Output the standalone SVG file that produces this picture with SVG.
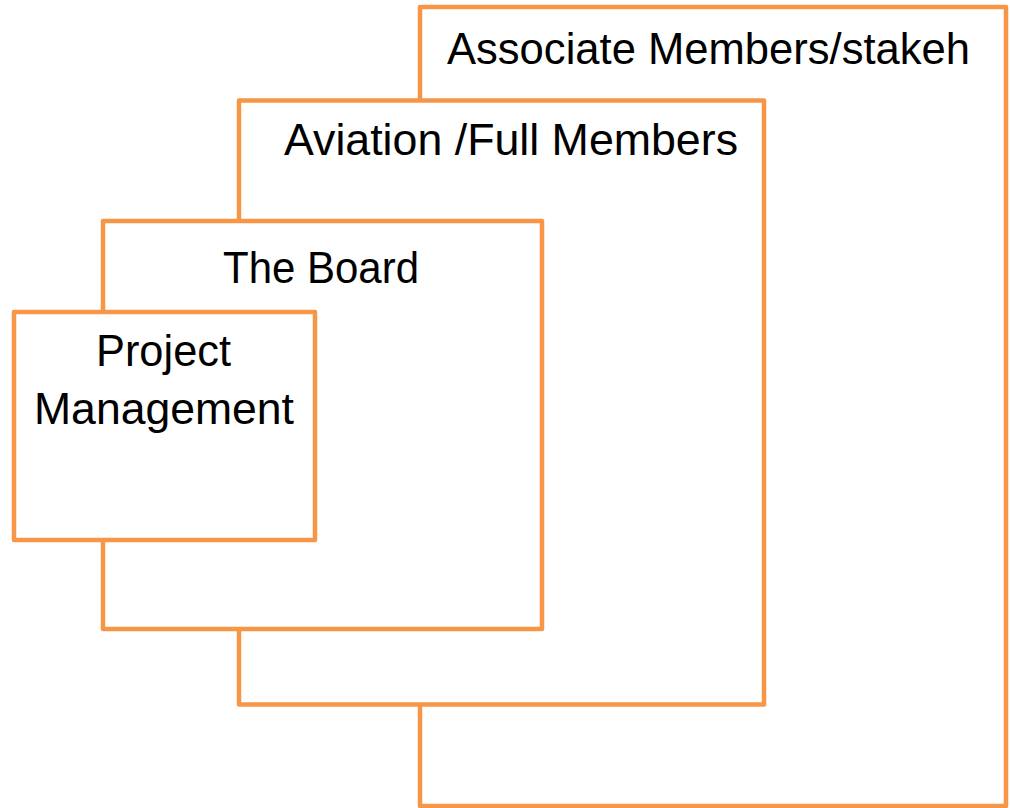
<svg xmlns="http://www.w3.org/2000/svg" width="1010" height="808" viewBox="0 0 1010 808">
  <style>
    .box { fill: #FFFFFF; stroke: #F79646; stroke-width: 4.5; stroke-linejoin: round; }
    .lbl { font-family: "Liberation Sans", Arial, sans-serif; font-size: 44px; fill: #000000; }
  </style>
  <rect width="1010" height="808" fill="#FFFFFF"/>
  <g id="associate-members">
    <rect class="box" x="420" y="7" width="586" height="799"/>
    <text class="lbl" x="447" y="64" textLength="523" lengthAdjust="spacingAndGlyphs">Associate Members/stakeh</text>
  </g>
  <g id="aviation-full-members">
    <rect class="box" x="239" y="100.5" width="525" height="604"/>
    <text class="lbl" x="284" y="155" textLength="454" lengthAdjust="spacingAndGlyphs">Aviation /Full Members</text>
  </g>
  <g id="the-board">
    <rect class="box" x="103" y="221" width="439" height="408"/>
    <text class="lbl" x="321" y="283" text-anchor="middle" textLength="196" lengthAdjust="spacingAndGlyphs">The Board</text>
  </g>
  <g id="project-management">
    <rect class="box" x="14" y="312" width="301" height="228"/>
    <text class="lbl" x="163.5" y="366" text-anchor="middle" textLength="135" lengthAdjust="spacingAndGlyphs">Project</text>
    <text class="lbl" x="164" y="424" text-anchor="middle" textLength="260" lengthAdjust="spacingAndGlyphs">Management</text>
  </g>
  <g id="connectors"></g>
</svg>
